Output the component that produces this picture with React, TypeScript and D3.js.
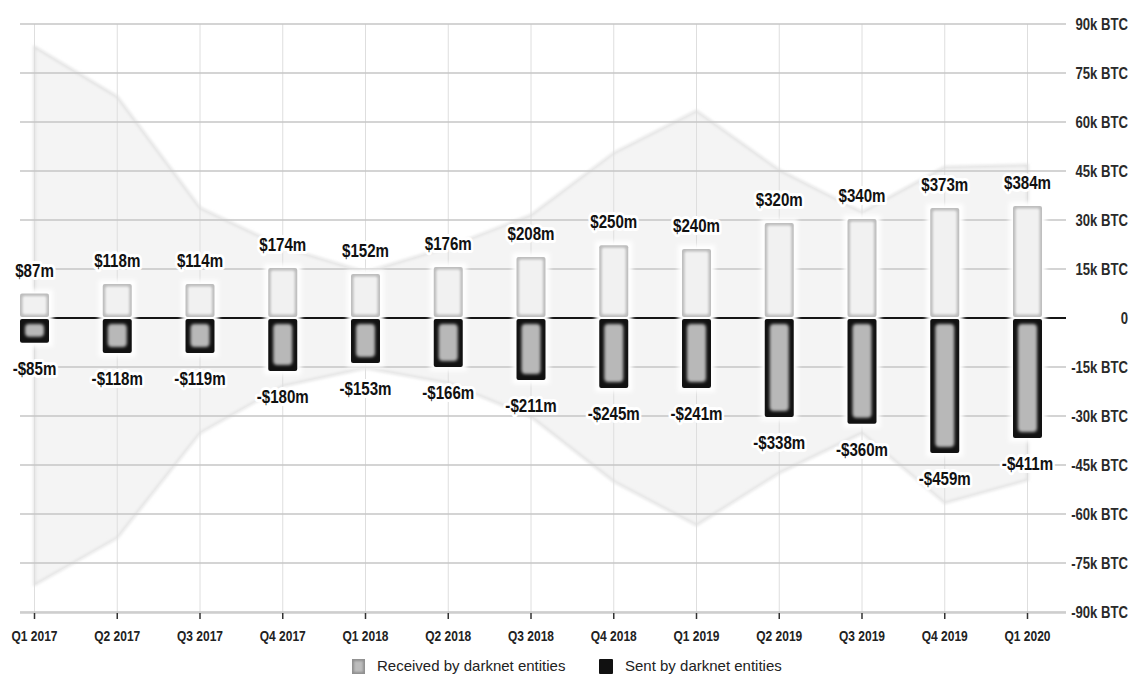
import React from "react";
import * as d3 from "d3";

const quarters = ["Q1 2017","Q2 2017","Q3 2017","Q4 2017","Q1 2018","Q2 2018","Q3 2018","Q4 2018","Q1 2019","Q2 2019","Q3 2019","Q4 2019","Q1 2020"];
// BTC volumes (thousands)
const receivedBTC = [7.5, 10.4, 10.4, 15.3, 13.5, 15.6, 18.7, 22.3, 21.1, 29.1, 30.3, 33.7, 34.3];
const sentBTC = [-7.6, -10.7, -10.7, -16.2, -13.8, -15.0, -19.0, -21.4, -21.4, -30.3, -32.4, -41.3, -36.7];
const receivedLabels = ["$87m","$118m","$114m","$174m","$152m","$176m","$208m","$250m","$240m","$320m","$340m","$373m","$384m"];
const sentLabels = ["-$85m","-$118m","-$119m","-$180m","-$153m","-$166m","-$211m","-$245m","-$241m","-$338m","-$360m","-$459m","-$411m"];
// background envelope (thousands BTC)
const envelopeTop = [83, 67.7, 33.7, 21.7, 14, 21.7, 31.5, 50.5, 63.4, 45.3, 32.4, 46.2, 46.8];
const envelopeBottom = [-81.7, -67.3, -35.2, -20.8, -15.3, -19.9, -30.2, -50, -63.4, -47.4, -35.2, -56.6, -49.6];
const yTicks = [90, 75, 60, 45, 30, 15, 0, -15, -30, -45, -60, -75, -90];
const yTickLabels = ["90k BTC","75k BTC","60k BTC","45k BTC","30k BTC","15k BTC","0","-15k BTC","-30k BTC","-45k BTC","-60k BTC","-75k BTC","-90k BTC"];
const legendItems = ["Received by darknet entities", "Sent by darknet entities"];

const FONT = "'Liberation Sans', Arial, sans-serif";

export default function App() {
  const W = 1131, H = 681;
  const x = d3.scalePoint<string>().domain(quarters).range([34.5, 1027.5]);
  const y = d3.scaleLinear().domain([-90, 90]).range([612, 24]);
  const gridLeft = 20, gridRight = 1066;
  const barW = 29;

  const area = d3.area<number>()
    .x((_, i) => x(quarters[i])!)
    .y0((_, i) => y(envelopeBottom[i]))
    .y1((d) => y(d))
    .curve(d3.curveLinear);
  const areaPath = area(envelopeTop) || "";

  const y0 = y(0);

  return (
    <svg width={W} height={H} style={{ position: "absolute", left: 0, top: 0, background: "#fff" }} fontFamily={FONT}>
      <defs>
        <filter id="soft" x="-20%" y="-20%" width="140%" height="140%">
          <feGaussianBlur stdDeviation="1.3" />
        </filter>
        <filter id="softer" x="-30%" y="-30%" width="160%" height="160%">
          <feGaussianBlur stdDeviation="1.8" />
        </filter>
        <filter id="halo" x="-50%" y="-50%" width="200%" height="200%">
          <feGaussianBlur stdDeviation="2" />
        </filter>
        <filter id="edge" x="-5%" y="-5%" width="110%" height="110%">
          <feGaussianBlur stdDeviation="1.5" />
        </filter>
      </defs>
      <rect width={W} height={H} fill="#fff" />

      {/* envelope */}
      <path d={areaPath} fill="#f4f4f4" />
      <path d={areaPath} fill="none" stroke="#dcdcdc" strokeWidth={2} filter="url(#edge)" />

      {/* vertical gridlines */}
      {quarters.map((q) => (
        <line key={"v" + q} x1={x(q)} x2={x(q)} y1={y(90)} y2={613} stroke="#dedede" strokeWidth={1} />
      ))}
      {/* horizontal gridlines */}
      {yTicks.filter((t) => t !== 0).map((t) => (
        <line key={"h" + t} x1={gridLeft} x2={gridRight} y1={y(t)} y2={y(t)} stroke="#c6c6c6" strokeWidth={1.4} />
      ))}
      {/* zero line */}
      <line x1={gridLeft} x2={gridRight} y1={y0} y2={y0} stroke="#151515" strokeWidth={2} />

      {/* x axis */}
      <line x1={gridLeft} x2={gridRight} y1={613} y2={613} stroke="#cccccc" strokeWidth={1.5} />
      {quarters.map((q) => (
        <line key={"t" + q} x1={x(q)} x2={x(q)} y1={613} y2={619} stroke="#333" strokeWidth={1.5} />
      ))}
      {quarters.map((q) => (
        <text key={"xl" + q} transform={`translate(${x(q)},641) scale(0.8,1)`} textAnchor="middle" fontSize={15} fontWeight="bold" fill="#222">{q}</text>
      ))}

      {/* y tick labels */}
      {yTicks.map((t, i) => (
        <text key={"yl" + t} transform={`translate(1128,${y(t) + 5.5}) scale(0.82,1)`} textAnchor="end" fontSize={16} fontWeight="bold" fill="#2a2a2a">{yTickLabels[i]}</text>
      ))}

      {/* halos behind bars */}
      {quarters.map((q, i) => {
        const cx = x(q)!;
        const top = y(receivedBTC[i]);
        const bot = y(sentBTC[i]);
        return (
          <rect key={"halo" + q} x={cx - barW / 2 - 4} y={top - 4} width={barW + 8} height={bot - top + 8} fill="#fff" filter="url(#halo)" />
        );
      })}

      {/* bars */}
      {quarters.map((q, i) => {
        const cx = x(q)!;
        const top = y(receivedBTC[i]);
        const bot = y(sentBTC[i]);
        const left = cx - barW / 2;
        const hp = y0 - 1 - top;
        const hn = bot - (y0 + 1);
        return (
          <g key={"bar" + q}>
            <rect x={left} y={top} width={barW} height={hp} rx={2} fill="#bdbdbd" />
            <rect x={left + 2.5} y={top + 2.5} width={barW - 5} height={Math.max(0, hp - 5)} rx={2} fill="#f1f1f1" filter="url(#soft)" />
            <rect x={left} y={y0 + 1} width={barW} height={hn} rx={2} fill="#121212" />
            <rect x={left + 5} y={y0 + 6} width={barW - 10} height={Math.max(2, hn - 11)} rx={4} fill="#b8b8b8" filter="url(#softer)" />
          </g>
        );
      })}

      {/* value labels */}
      {quarters.map((q, i) => {
        const cx = x(q)!;
        const top = y(receivedBTC[i]);
        const bot = y(sentBTC[i]);
        return (
          <g key={"lab" + q} fontSize={18} fontWeight="bold" textAnchor="middle">
            <text transform={`translate(${cx},${top - 17}) scale(0.84,1)`} fill="#111" stroke="#fff" strokeWidth={6} strokeLinejoin="round" style={{ paintOrder: "stroke" }}>{receivedLabels[i]}</text>
            <text transform={`translate(${cx},${bot + 32}) scale(0.84,1)`} fill="#111" stroke="#fff" strokeWidth={6} strokeLinejoin="round" style={{ paintOrder: "stroke" }}>{sentLabels[i]}</text>
          </g>
        );
      })}

      {/* legend */}
      <g>
        <rect x={352} y={659} width={13} height={15} fill="#8f8f8f" />
        <rect x={354} y={661} width={9} height={11} fill="#bdbdbd" filter="url(#soft)" />
        <text x={377} y={671} fontSize={15} fill="#222">{legendItems[0]}</text>
        <rect x={599} y={659} width={14} height={15} rx={1} fill="#111" />
        <text x={625} y={671} fontSize={15} fill="#222">{legendItems[1]}</text>
      </g>
    </svg>
  );
}
